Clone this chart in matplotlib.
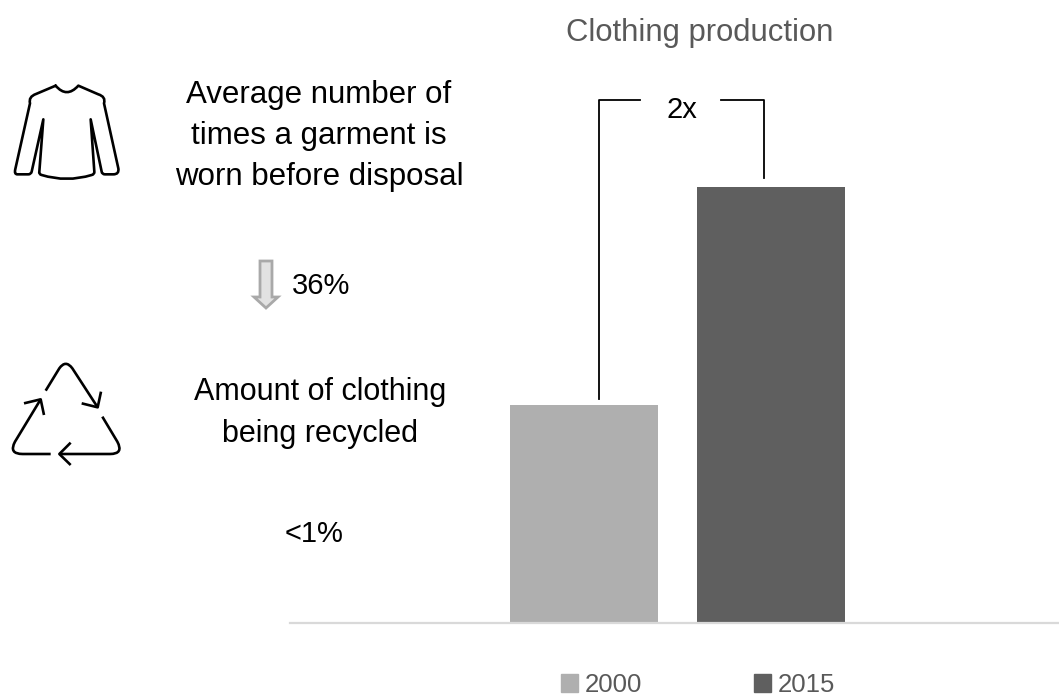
import matplotlib
matplotlib.use("Agg")
import matplotlib.pyplot as plt
from matplotlib.patches import Polygon, PathPatch, Patch
from matplotlib.path import Path

plt.rcParams['font.family'] = ['Liberation Sans', 'DejaVu Sans']

years = ['2000', '2015']
production = [1.0, 2.0]
bar_colors = ['#afafaf', '#5f5f5f']
W, H = 1059, 697

fig = plt.figure(figsize=(W / 100, H / 100), dpi=100, facecolor='white')

# bar chart, baseline sits at y=623
ax = fig.add_axes([290 / W, (H - 623) / H, (W - 290) / W, 545 / H])
ax.bar([0, 1], production, width=0.79, color=bar_colors, label=years)
ax.set_xlim(-294 / 187, 475 / 187)
ax.set_ylim(0, 2.5)
ax.set_xticks([])
ax.set_yticks([])
for s in ['top', 'left', 'right']:
    ax.spines[s].set_visible(False)
ax.spines['bottom'].set_color('#d9d9d9')
ax.spines['bottom'].set_linewidth(1.6)
ax.patch.set_alpha(0)

handles = [Patch(color=c) for c in bar_colors]
fig.legend(handles, years, loc='center', bbox_to_anchor=(698 / W, (H - 685) / H), ncol=2,
           frameon=False, fontsize=18.5, labelcolor='#595959', handlelength=0.66,
           handleheight=0.66, handletextpad=0.27, columnspacing=4.36)

# overlay in pixel coordinates for the text and icons
ov = fig.add_axes([0, 0, 1, 1])
ov.set_xlim(0, W)
ov.set_ylim(H, 0)
ov.axis('off')
ov.patch.set_alpha(0)

ov.text(700, 33, 'Clothing production', ha='center', va='center', fontsize=22.3, color='#595959')
ov.text(682, 110, '2x', ha='center', va='center', fontsize=21, color='black')
ov.text(319, 136, 'Average number of\ntimes a garment is\nworn before disposal', ha='center',
        va='center', fontsize=22.5, color='black', linespacing=1.46)
ov.text(292, 286, '36%', ha='left', va='center', fontsize=21, color='black')
ov.text(320, 413, 'Amount of clothing\nbeing recycled', ha='center', va='center',
        fontsize=22, color='black', linespacing=1.49)
ov.text(285, 534, '<1%', ha='left', va='center', fontsize=21, color='black')

# bracket between the two bars
ov.plot([599, 599, 640], [399, 100, 100], color='black', lw=1.3)
ov.plot([721, 764, 764], [100, 100, 178], color='black', lw=1.3)

# down arrow
ov.add_patch(Polygon([(260, 261), (272, 261), (272, 297), (278, 297), (266, 308), (254, 297), (260, 297)],
                     closed=True, facecolor='#e2e2e2', edgecolor='#a9a9a9', lw=2))


def zoomed(pts, ox, oy):
    return [(x / 3 + ox, y / 3 + oy) for x, y in pts]


# sweater icon
sw = [(167, 47), (200, 86), (235, 47), (295, 73), (318, 80), (312, 100), (355, 295), (358, 313), (340, 313),
      (315, 313), (306, 313), (305, 305), (272, 148), (283, 305), (284, 313), (275, 315), (200, 338), (125, 315),
      (116, 313), (118, 305), (130, 148), (95, 305), (93, 313), (85, 313), (52, 313), (42, 313), (46, 297),
      (90, 100), (85, 80), (108, 72), (167, 47)]
sw_codes = [Path.MOVETO, Path.CURVE3, Path.CURVE3, Path.LINETO, Path.CURVE3, Path.CURVE3, Path.LINETO, Path.CURVE3,
            Path.CURVE3, Path.LINETO, Path.CURVE3, Path.CURVE3, Path.LINETO, Path.LINETO, Path.CURVE3, Path.CURVE3,
            Path.CURVE3, Path.CURVE3, Path.CURVE3, Path.CURVE3, Path.LINETO, Path.LINETO, Path.CURVE3, Path.CURVE3,
            Path.LINETO, Path.CURVE3, Path.CURVE3, Path.LINETO, Path.CURVE3, Path.CURVE3, Path.LINETO]
ov.add_patch(PathPatch(Path(zoomed(sw, 0, 70), sw_codes), facecolor='none', edgecolor='black', lw=1.9,
                       joinstyle='round', capstyle='round'))

# recycling icon, three strokes with arrow heads
strokes = [
    ([(137, 122), (178, 55), (197, 28), (217, 55), (293, 172)],
     [Path.MOVETO, Path.LINETO, Path.CURVE3, Path.CURVE3, Path.LINETO]),
    ([(245, 160), (293, 172), (303, 125)], [Path.MOVETO, Path.LINETO, Path.LINETO]),
    ([(307, 200), (352, 275), (372, 312), (330, 312), (178, 312)],
     [Path.MOVETO, Path.LINETO, Path.CURVE3, Path.CURVE3, Path.LINETO]),
    ([(212, 278), (178, 312), (212, 345)], [Path.MOVETO, Path.LINETO, Path.LINETO]),
    ([(152, 312), (68, 312), (25, 312), (45, 275), (122, 148)],
     [Path.MOVETO, Path.LINETO, Path.CURVE3, Path.CURVE3, Path.LINETO]),
    ([(72, 160), (122, 148), (132, 195)], [Path.MOVETO, Path.LINETO, Path.LINETO]),
]
for pts, codes in strokes:
    ov.add_patch(PathPatch(Path(zoomed(pts, 0, 350), codes), facecolor='none', edgecolor='black', lw=1.9,
                           joinstyle='round', capstyle='butt'))

fig.savefig('out.png', dpi=100, facecolor='white')
